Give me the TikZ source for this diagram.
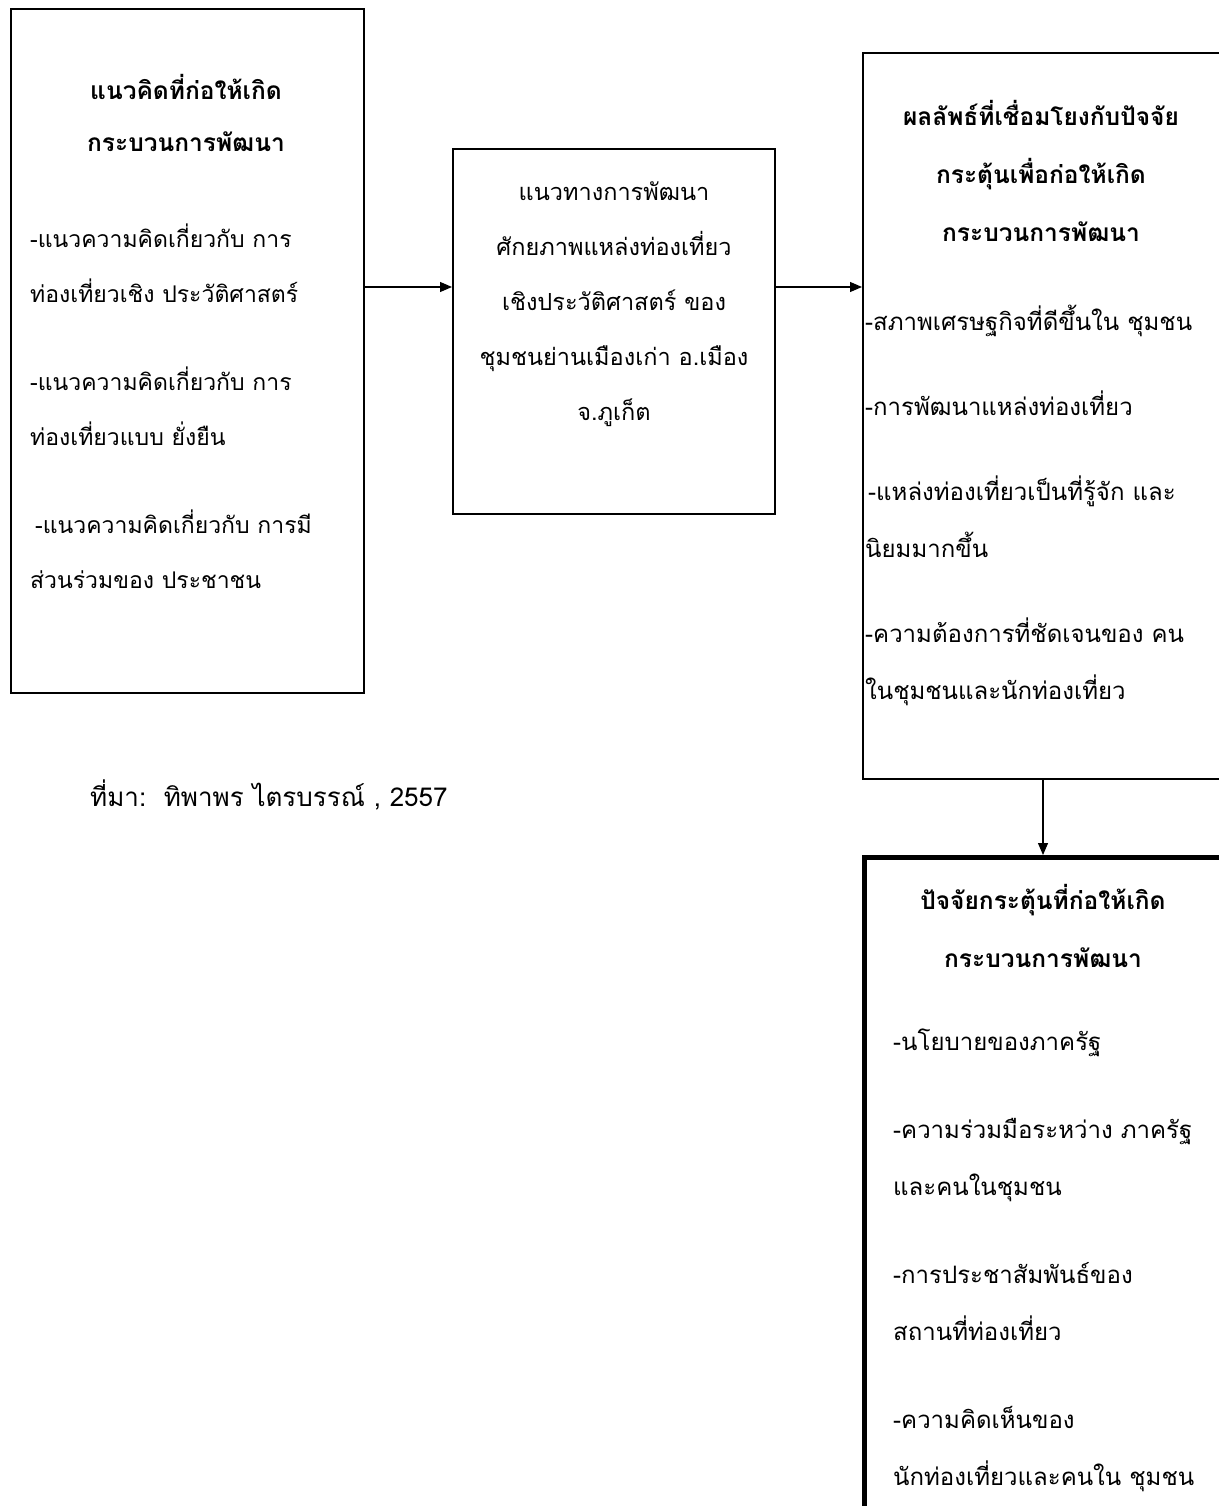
\documentclass[tikz,border=0pt]{standalone}
\usepackage{fontspec}
\newfontfamily\thaifont[Script=Thai]{Loma}
\usetikzlibrary{arrows.meta}
\begin{document}
\begin{tikzpicture}
    [
        x = 1pt, y = -1pt,
        box/.style = {draw, line width = 2pt, anchor = north west, inner sep = 0pt},
        title/.style = {font = \thaifont\bfseries\fontsize{24.5}{58}\selectfont, align = center, anchor = base, inner sep = 0pt},
        body/.style = {font = \thaifont\fontsize{24}{57}\selectfont, align = left, anchor = base west, inner sep = 0pt},
        plain/.style = {font = \thaifont\fontsize{23.5}{55}\selectfont, align = center, anchor = base, inner sep = 0pt},
        arrow/.style = {line width = 1.2pt, -{Triangle[length = 12pt, width = 10pt]}},
    ]

    \useasboundingbox (0,0) rectangle (1218,1506);

    \node[box, minimum width = 353, minimum height = 684] (concept) at (10,8) {};
    \node[box, minimum width = 322, minimum height = 365] (way) at (452,148) {};
    \node[box, line width = 2.4pt, minimum width = 370, minimum height = 726] (result) at (862,52) {};
    \node[box, line width = 5pt, minimum width = 370, minimum height = 700] (factor) at (862,855) {};

    \node[title, font = \thaifont\bfseries\fontsize{24.5}{52}\selectfont] (concepthead) at (186,152)
        {แนวคิดที่ก่อให้เกิด\\กระบวนการพัฒนา};
    \node[body, font = \thaifont\fontsize{23}{55}\selectfont] (conceptlist) at (30,588)
        {-แนวความคิดเกี่ยวกับ การ\\ท่องเที่ยวเชิง ประวัติศาสตร์\\[33pt]
         -แนวความคิดเกี่ยวกับ การ\\ท่องเที่ยวแบบ ยั่งยืน\\[33pt]
         \hspace{5pt}-แนวความคิดเกี่ยวกับ การมี\\ส่วนร่วมของ ประชาชน};

    \node[plain] (waytext) at (614,420)
        {แนวทางการพัฒนา\\ศักยภาพแหล่งท่องเที่ยว\\เชิงประวัติศาสตร์ ของ\\ชุมชนย่านเมืองเก่า อ.เมือง\\จ.ภูเก็ต};

    \node[title] (resulthead) at (1041,242)
        {ผลลัพธ์ที่เชื่อมโยงกับปัจจัย\\กระตุ้นเพื่อก่อให้เกิด\\กระบวนการพัฒนา};
    \node[body] (resultlist) at (865,699)
        {-สภาพเศรษฐกิจที่ดีขึ้นใน ชุมชน\\[28pt]
         -การพัฒนาแหล่งท่องเที่ยว\\[28pt]
         \hspace{3pt}-แหล่งท่องเที่ยวเป็นที่รู้จัก และ\\นิยมมากขึ้น\\[28pt]
         -ความต้องการที่ชัดเจนของ คน\\ในชุมชนและนักท่องเที่ยว};

    \node[title] (factorhead) at (1043,967)
        {ปัจจัยกระตุ้นที่ก่อให้เกิด\\กระบวนการพัฒนา};
    \node[body] (factorlist) at (893,1485)
        {-นโยบายของภาครัฐ\\[31pt]
         -ความร่วมมือระหว่าง ภาครัฐ\\และคนในชุมชน\\[31pt]
         -การประชาสัมพันธ์ของ\\สถานที่ท่องเที่ยว\\[31pt]
         -ความคิดเห็นของ\\นักท่องเที่ยวและคนใน ชุมชน};

    \node[anchor = base west, inner sep = 0pt, font = \thaifont\fontsize{26}{30}\selectfont] (source) at (90,806)
        {ที่มา:\ \ ทิพาพร ไตรบรรณ์ , 2557};

    \coordinate (level) at (0,287);
    \coordinate (drop) at (1043,0);
    \draw[arrow] (concept.east |- level) -- (way.west |- level);
    \draw[arrow] (way.east |- level) -- (result.west |- level);
    \draw[arrow] (result.south -| drop) -- (factor.north -| drop);

\end{tikzpicture}
\end{document}
